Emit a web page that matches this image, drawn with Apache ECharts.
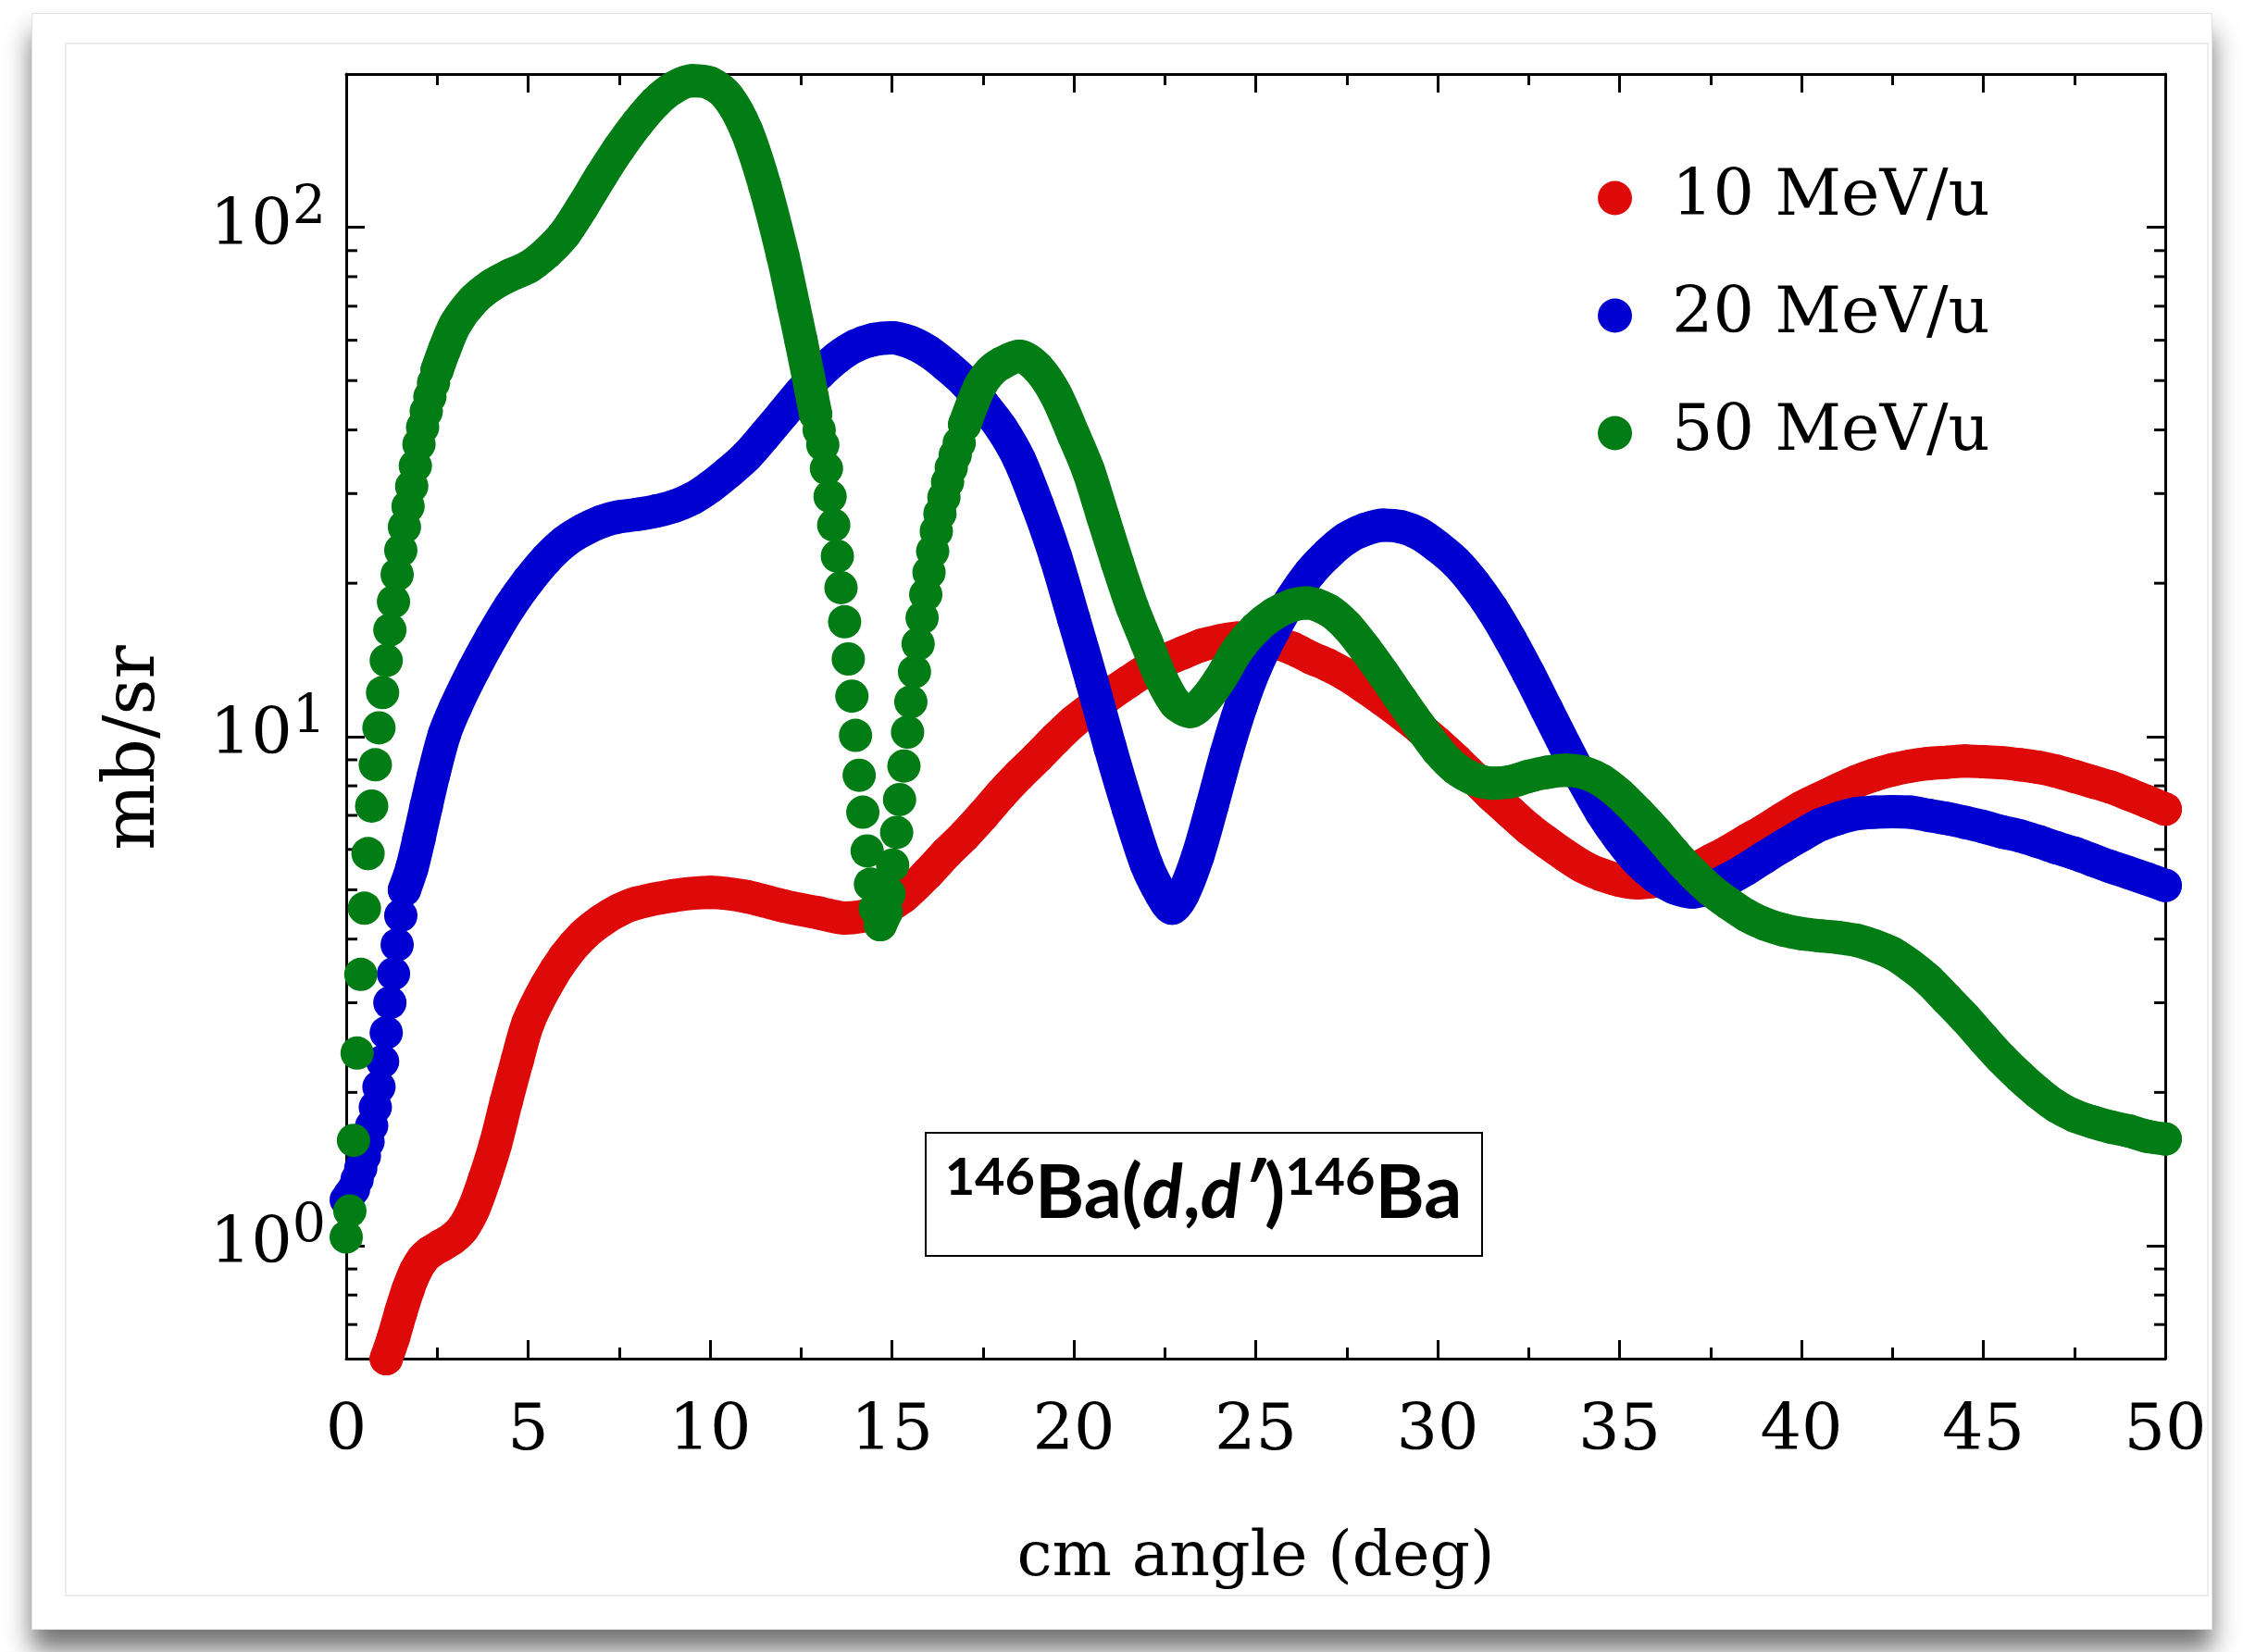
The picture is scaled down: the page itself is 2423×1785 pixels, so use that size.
<!DOCTYPE html>
<html>
<head>
<meta charset="utf-8">
<script src="https://cdn.jsdelivr.net/npm/echarts@6/dist/echarts.min.js"></script>
<style>
  html, body { margin: 0; padding: 0; background: #ffffff; }
  #card { position: absolute; left: 34px; top: 14px; width: 2354px; height: 1745px; background: #fff;
          border: 1px solid #e2e2e2; box-shadow: 0 22px 26px rgba(0,0,0,0.55); }
  #inner { position: absolute; left: 70px; top: 46px; width: 2312px; height: 1675px; border: 2px solid #ececec; }
  #chart { position: absolute; left: 0; top: 0; width: 2423px; height: 1785px; }
</style>
</head>
<body>
<div id="card"></div>
<div id="inner"></div>
<div id="chart"></div>
<script>
// ---------------- data ----------------
const seriesNames = ['10 MeV/u', '20 MeV/u', '50 MeV/u'];
const xTickLabels = ['0', '5', '10', '15', '20', '25', '30', '35', '40', '45', '50'];
const yDecades = [1, 10, 100];
const yMinorTicks = [0.7, 0.8, 0.9, 2, 3, 4, 5, 6, 7, 8, 9, 20, 30, 40, 50, 60, 70, 80, 90];

const ang10 = [1.1, 1.3, 1.5, 1.7, 1.9, 2.1, 2.3, 2.6, 2.9, 3.2, 3.5, 3.8, 4.1, 4.4, 4.7, 5.0, 5.5, 6.0, 6.5, 7.0, 7.5, 8.0, 9.0, 10.0,
  11.0, 12.0, 13.0, 13.7, 14.5, 15.3, 16.0, 16.5, 17.0, 17.5, 18.0, 18.5, 19.0, 19.5, 20.0, 20.5, 21.0, 21.5, 22.0, 22.5, 23.0, 23.5,
  24.0, 24.5, 25.0, 25.5, 26.0, 26.5, 27.0, 27.5, 28.0, 28.5, 29.0, 29.5, 30.0, 30.5, 31.0, 31.5, 32.0, 32.5, 33.0, 33.5, 34.0, 34.5,
  35.0, 35.5, 36.0, 36.5, 37.0, 37.5, 38.0, 38.5, 39.0, 39.5, 40.0, 40.5, 41.0, 41.5, 42.0, 42.5, 43.0, 43.5, 44.0, 44.5, 45.0, 45.5,
  46.0, 46.5, 47.0, 47.5, 48.0, 48.5, 49.0, 49.5, 50.0];
const val10 = [0.60, 0.66, 0.74, 0.82, 0.89, 0.94, 0.97, 1.0, 1.03, 1.08, 1.18, 1.35, 1.58, 1.92, 2.31, 2.74, 3.24, 3.69, 4.06, 4.34, 4.56, 4.71, 4.87, 4.94,
  4.85, 4.65, 4.5, 4.4, 4.5, 4.84, 5.4, 5.9, 6.4, 7.0, 7.7, 8.4, 9.1, 9.9, 10.7, 11.4, 12.1, 12.8, 13.5, 14.1, 14.6, 15.1,
  15.4, 15.6, 15.55, 15.3, 14.9, 14.3, 13.8, 13.2, 12.5, 11.8, 11.1, 10.4, 9.7, 9.0, 8.3, 7.65, 7.1, 6.6, 6.2, 5.85, 5.55, 5.35,
  5.22, 5.16, 5.2, 5.3, 5.45, 5.7, 5.95, 6.25, 6.55, 6.9, 7.25, 7.55, 7.85, 8.15, 8.4, 8.6, 8.75, 8.85, 8.9, 8.95, 8.92, 8.88,
  8.8, 8.7, 8.55, 8.35, 8.15, 7.95, 7.7, 7.45, 7.2];

const ang20 = [0.0, 0.1, 0.2, 0.3, 0.4, 0.5, 0.6, 0.7, 0.8, 0.9, 1.0, 1.1, 1.2, 1.3, 1.4, 1.5, 1.6,
  1.8, 2.0, 2.2, 2.4, 2.7, 3.0, 3.5, 4.0, 4.5, 5.0, 5.5, 6.0, 6.5, 7.0, 7.5, 8.0, 8.5, 9.0, 9.5, 10.0, 10.5, 11.0, 11.5, 12.0,
  12.5, 13.0, 13.5, 14.0, 14.5, 15.0, 15.5, 16.0, 16.5, 17.0, 17.5, 18.0, 18.5, 19.0, 19.5, 20.0, 20.5, 21.0, 21.5, 22.0, 22.4,
  22.7, 23.0, 23.4, 23.8, 24.2, 24.6, 25.0, 25.5, 26.0, 26.5, 27.0, 27.5, 28.0, 28.5, 29.0, 29.5, 30.0, 30.5, 31.0, 31.5, 32.0,
  32.5, 33.0, 33.5, 34.0, 34.5, 35.0, 35.5, 36.0, 36.5, 37.0, 37.5, 38.0, 38.5, 39.0, 39.5, 40.0, 40.5, 41.0, 41.5, 42.0, 42.5,
  43.0, 43.5, 44.0, 44.5, 45.0, 45.5, 46.0, 46.5, 47.0, 47.5, 48.0, 48.5, 49.0, 49.5, 50.0];
const val20 = [1.23, 1.26, 1.29, 1.35, 1.42, 1.5, 1.6, 1.72, 1.87, 2.05, 2.3, 2.62, 3.0, 3.42, 3.9, 4.45, 5.0,
  5.5, 6.3, 7.3, 8.4, 10.1, 11.4, 13.5, 15.7, 18.0, 20.2, 22.3, 24.1, 25.4, 26.4, 27.0, 27.3, 27.7, 28.3, 29.3, 30.9, 33.0, 35.5, 39, 43,
  47.5, 51.6, 55.5, 58.5, 60.2, 60.7, 59.5, 57, 53.5, 49.7, 45, 40.4, 35, 28.5, 22.5, 17, 12.8, 9.5, 7.2, 5.6, 4.9,
  4.6, 4.9, 5.8, 7.3, 9.3, 11.5, 13.7, 16.2, 18.7, 21.0, 22.9, 24.5, 25.5, 26.0, 25.8, 25.0, 23.6, 22, 20, 17.8, 15.5,
  13.3, 11.3, 9.6, 8.2, 7.1, 6.3, 5.7, 5.3, 5.05, 4.95, 5.05, 5.25, 5.5, 5.8, 6.1, 6.4, 6.7, 6.9, 7.05, 7.1, 7.12,
  7.1, 7.0, 6.9, 6.78, 6.65, 6.5, 6.38, 6.22, 6.05, 5.9, 5.72, 5.55, 5.4, 5.25, 5.1];

const ang50 = [0.0, 0.1, 0.2, 0.3, 0.4, 0.5, 0.6, 0.7, 0.8, 0.9, 1.0, 1.1, 1.2, 1.3, 1.4, 1.5, 1.6, 1.7, 1.8, 1.9, 2.0, 2.1, 2.2,
  2.3, 2.4, 2.5, 2.7, 3.0, 3.5, 4.0, 4.5, 5.0, 5.5, 6.0, 6.5, 7.0, 7.5, 8.0, 8.5, 9.0, 9.5, 10.0, 10.5, 11.0, 11.5, 12.0, 12.3,
  12.5, 12.7, 12.9, 13.0, 13.1, 13.2, 13.3, 13.4, 13.5, 13.6, 13.7, 13.8, 13.9, 14.0, 14.1, 14.2, 14.32, 14.41, 14.54, 14.68, 14.84,
  14.92, 15.02, 15.13, 15.21, 15.33, 15.43, 15.52, 15.62, 15.72, 15.83, 15.93, 16.02, 16.12, 16.22, 16.32, 16.43, 16.53, 16.63, 16.74,
  16.85, 17.0, 17.4, 17.7, 18.0, 18.5, 19.0, 19.5, 20.0, 20.4, 20.8, 21.2, 21.6, 22.0, 22.4, 22.8, 23.2, 23.6, 24.0, 24.5, 25.0,
  25.5, 26.0, 26.4, 27.0, 27.5, 28.0, 28.5, 29.0, 29.5, 30.0, 30.5, 31.0, 31.5, 32.0, 32.5, 33.0, 33.5, 34.0, 34.5, 35.0, 35.5,
  36.0, 36.5, 37.0, 37.5, 38.0, 38.5, 39.0, 39.5, 40.0, 40.5, 41.0, 41.5, 42.0, 42.5, 43.0, 43.5, 44.0, 44.5, 45.0, 45.5, 46.0,
  46.5, 47.0, 47.5, 48.0, 48.5, 49.0, 49.5, 50.0];
const val50 = [1.04, 1.17, 1.61, 2.39, 3.41, 4.6, 5.89, 7.3, 8.8, 10.4, 12.2, 14.1, 16.2, 18.4, 20.8, 23.2, 25.8, 28.3, 31, 34, 37.5, 40.5, 43.5,
  46.5, 49.5, 52.5, 57.5, 64.5, 72, 77, 80.5, 83.5, 89, 97, 110, 126, 143, 160, 176, 188, 194, 192, 180, 155, 121, 88, 70,
  60, 51, 43, 40, 37.4, 33.6, 29.6, 26.0, 22.6, 19.6, 16.8, 14.2, 12.0, 10.05, 8.39, 7.1, 5.96, 5.13, 4.59, 4.27, 4.52,
  4.91, 5.59, 6.48, 7.52, 8.75, 10.2, 11.7, 13.4, 15.2, 17.1, 19.0, 21.0, 23.1, 25.3, 27.4, 29.5, 31.6, 33.7, 35.7,
  37.7, 41, 48.4, 52, 54, 55.8, 53, 47, 39, 33.3, 27, 21.9, 18, 15.3, 13, 11.6, 11.2, 11.8, 12.9, 14.8, 16.3,
  17.4, 18.1, 18.3, 17.7, 16.5, 14.9, 13.3, 11.8, 10.5, 9.4, 8.65, 8.25, 8.1, 8.15, 8.35, 8.5, 8.58, 8.5, 8.2, 7.7, 7.1,
  6.5, 5.9, 5.4, 5.0, 4.7, 4.45, 4.28, 4.17, 4.1, 4.06, 4.03, 3.98, 3.88, 3.75, 3.55, 3.32, 3.05, 2.8, 2.55, 2.33, 2.15,
  2.0, 1.88, 1.8, 1.75, 1.71, 1.68, 1.64, 1.62];

// ---------------- styling ----------------
const colors = ['#de0a09', '#0000d0', '#027c14'];
const serif = '"DejaVu Serif", "Liberation Serif", serif';
const sans = 'Lato, "Noto Sans", sans-serif';

// Points sampled densely (step < 0.15 deg) are left unconnected so they show as separate dots.
function buildData(xs, ys) {
  const out = [];
  for (let i = 0; i < xs.length; i++) {
    out.push([xs[i], ys[i]]);
    if (i < xs.length - 1 && xs[i + 1] - xs[i] < 0.15) {
      out.push([(xs[i] + xs[i + 1]) / 2, '-']);
    }
  }
  return out;
}

const angs = [ang10, ang20, ang50];
const vals = [val10, val20, val50];

const lineSeries = seriesNames.map((name, k) => ({
  name: name,
  type: 'line',
  xAxisIndex: 0,
  yAxisIndex: 0,
  data: buildData(angs[k], vals[k]),
  smooth: 0.3,
  connectNulls: false,
  symbol: 'circle',
  symbolSize: 36,
  showSymbol: true,
  showAllSymbol: true,
  clip: false,
  silent: true,
  z: 3 + k,
  itemStyle: { color: colors[k] },
  lineStyle: { color: colors[k], width: 36, cap: 'round', join: 'round' }
}));

const minorTickSeries = {
  type: 'custom',
  xAxisIndex: 0,
  yAxisIndex: 0,
  silent: true,
  clip: false,
  z: 1,
  data: yMinorTicks.map(v => [0, v]),
  renderItem: function (params, api) {
    const v = api.value(1);
    const pl = api.coord([0, v]);
    const pr = api.coord([50, v]);
    return {
      type: 'group',
      children: [
        { type: 'line', shape: { x1: pl[0], y1: pl[1], x2: pl[0] + 12, y2: pl[1] }, style: { stroke: '#000', lineWidth: 3 } },
        { type: 'line', shape: { x1: pr[0] - 12, y1: pr[1], x2: pr[0], y2: pr[1] }, style: { stroke: '#000', lineWidth: 3 } }
      ]
    };
  }
};

const axisLine = { show: true, onZero: false, lineStyle: { color: '#000', width: 3 } };
const majorTick = { show: true, inside: true, length: 20, lineStyle: { color: '#000', width: 3 } };
const minorTickX = { show: true, splitNumber: 2, length: 12, lineStyle: { color: '#000', width: 3 } };

function yLabel(v) {
  const e = Math.round(Math.log10(v));
  if (yDecades.indexOf(v) < 0 && Math.abs(Math.pow(10, e) - v) > 1e-9) return '';
  return '{b|10}{s|' + e + '}';
}

const chart = echarts.init(document.getElementById('chart'), null, { renderer: 'canvas' });
chart.setOption({
  animation: false,
  backgroundColor: 'transparent',
  grid: { left: 374, right: 84, top: 80, bottom: 317, containLabel: false },
  xAxis: [
    {
      type: 'value', position: 'bottom', min: 0, max: 50, interval: 5,
      axisLine: axisLine, axisTick: majorTick, minorTick: minorTickX, splitLine: { show: false },
      axisLabel: {
        margin: 45, color: '#000', fontSize: 70, fontFamily: serif,
        formatter: function (v) { const i = Math.round(v / 5); return xTickLabels[i] !== undefined ? xTickLabels[i] : ''; }
      },
      name: 'cm angle (deg)', nameLocation: 'middle', nameGap: 182,
      nameTextStyle: { color: '#000', fontSize: 68, fontFamily: serif }
    },
    {
      type: 'value', position: 'top', min: 0, max: 50, interval: 5,
      axisLine: axisLine, axisTick: majorTick, minorTick: minorTickX, splitLine: { show: false },
      axisLabel: { show: false }
    }
  ],
  yAxis: [
    {
      type: 'log', logBase: 10, position: 'left', min: 0.6, max: 200, splitNumber: 2,
      axisLine: axisLine, axisTick: majorTick, splitLine: { show: false }, minorTick: { show: false },
      axisLabel: {
        margin: 22, color: '#000', fontFamily: serif, showMinLabel: false, showMaxLabel: false,
        formatter: yLabel,
        rich: {
          b: { fontSize: 70, fontFamily: serif, color: '#000', lineHeight: 96 },
          s: { fontSize: 57, fontFamily: serif, color: '#000', lineHeight: 57, verticalAlign: 'top' }
        }
      },
      name: 'mb/sr', nameLocation: 'middle', nameGap: 190,
      nameTextStyle: { color: '#000', fontSize: 76, fontFamily: serif, padding: [0, 68, 0, 0] }
    },
    {
      type: 'log', logBase: 10, position: 'right', min: 0.6, max: 200, splitNumber: 2,
      axisLine: axisLine, axisTick: majorTick, splitLine: { show: false }, minorTick: { show: false },
      axisLabel: { show: false }
    }
  ],
  legend: {
    data: seriesNames,
    orient: 'vertical',
    left: 1721, top: 174,
    itemWidth: 37, itemHeight: 37, itemGap: 57,
    icon: 'circle',
    selectedMode: false,
    textStyle: { color: '#000', fontSize: 70, fontFamily: serif, lineHeight: 70, padding: [0, 0, 0, 38] }
  },
  graphic: [
    {
      type: 'group', left: 999, top: 1223, z: 10,
      children: [
        { type: 'rect', shape: { x: 0, y: 0, width: 601, height: 133 }, style: { fill: '#fff', stroke: '#000', lineWidth: 2 } },
        {
          type: 'text', x: 300, y: 66,
          style: {
            text: '{sup|146}{t|Ba(}{it|d}{t|,}{it|d\u2032}{t|)}{sup|146}{t|Ba}',
            align: 'center', verticalAlign: 'middle',
            rich: {
              t: { fontSize: 81, fontFamily: sans, fontWeight: 'bold', fill: '#000', lineHeight: 90 },
              it: { fontSize: 81, fontFamily: sans, fontWeight: 'bold', fontStyle: 'italic', fill: '#000', lineHeight: 90 },
              sup: { fontSize: 56, fontFamily: sans, fontWeight: 'bold', fill: '#000', lineHeight: 56, verticalAlign: 'top' }
            }
          }
        }
      ]
    }
  ],
  series: [minorTickSeries].concat(lineSeries)
});
</script>
</body>
</html>
